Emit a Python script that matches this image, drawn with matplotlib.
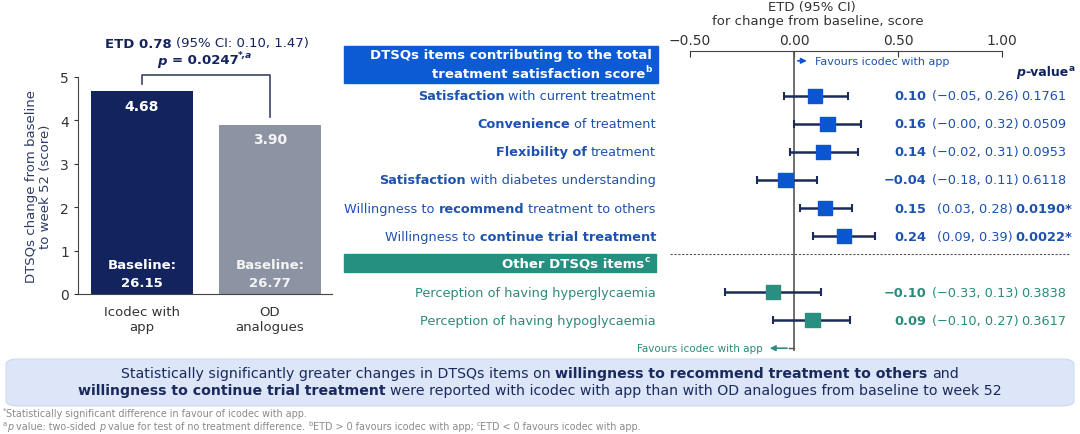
import matplotlib
matplotlib.use("Agg")
import matplotlib.pyplot as plt
import matplotlib.transforms as mtransforms
from matplotlib.patches import FancyBboxPatch, Rectangle
from matplotlib.lines import Line2D

# ---- data ----
groups = ["Icodec with\napp", "OD\nanalogues"]
change = [4.68, 3.90]
baseline = [26.15, 26.77]

items = [
    [("Satisfaction", True), (" with current treatment", False)],
    [("Convenience", True), (" of treatment", False)],
    [("Flexibility of", True), (" treatment", False)],
    [("Satisfaction", True), (" with diabetes understanding", False)],
    [("Willingness to ", False), ("recommend", True), (" treatment to others", False)],
    [("Willingness to ", False), ("continue trial treatment", True)],
    [("Perception of having hyperglycaemia", False)],
    [("Perception of having hypoglycaemia", False)],
]
etd = [0.10, 0.16, 0.14, -0.04, 0.15, 0.24, -0.10, 0.09]
ci_lo = [-0.05, -0.00, -0.02, -0.18, 0.03, 0.09, -0.33, -0.10]
ci_hi = [0.26, 0.32, 0.31, 0.11, 0.28, 0.39, 0.13, 0.27]
pvals = ["0.1761", "0.0509", "0.0953", "0.6118", "0.0190*", "0.0022*", "0.3838", "0.3617"]
signif = [False, False, False, False, True, True, False, False]
other = [False] * 6 + [True] * 2
rows = [0, 1, 2, 3, 4, 5, 7, 8]

NAVY = "#13235e"
GREY_BAR = "#8c94a3"
BLUE = "#0b55d0"
BLUE_TXT = "#1d52ad"
TEAL = "#2a8f80"
TEAL_TXT = "#2b8a7b"
ERR = "#1b2b58"

W, H = 1080, 435
fig = plt.figure(figsize=(10.8, 4.35), dpi=100)
plt.rcParams['font.family'] = ['DejaVu Sans']
renderer = fig.canvas.get_renderer()


def fx(px):
    return px / W


def fy(py):
    return 1 - py / H


def text_w(s, **kw):
    t = fig.text(0, 0, s, **kw)
    w = t.get_window_extent(renderer).width
    t.remove()
    return w


def rich(x, y, parts, ha="left", transform=None, size=9, color="k", family=None, va="center"):
    # parts: list of (text, bold) or (text, bold, extra dict)
    if transform is None:
        transform = fig.transFigure
    fam = family or ['DejaVu Sans']
    segs = []
    for p in parts:
        txt, bold = p[0], p[1]
        extra = p[2] if len(p) > 2 else {}
        kw = dict(fontsize=extra.get("size", size), fontweight="bold" if bold else "normal",
                  family=fam, fontstyle=extra.get("style", "normal"))
        sp = text_w("x x", **kw) - text_w("xx", **kw)
        lead = (len(txt) - len(txt.lstrip(" "))) * sp
        trail = (len(txt) - len(txt.rstrip(" "))) * sp
        core = txt.strip(" ")
        w = text_w(core, **kw) if core else 0
        segs.append((core, kw, lead, w, trail, extra))
    total = sum(s[2] + s[3] + s[4] for s in segs)
    if ha == "center":
        start = -total / 2
    elif ha == "right":
        start = -total
    else:
        start = 0
    pos = start
    for core, kw, lead, w, trail, extra in segs:
        pos += lead
        off = mtransforms.offset_copy(transform, fig=fig, x=pos * 72 / fig.dpi,
                                      y=extra.get("dy", 0), units="points")
        if core:
            fig.text(x, y, core, transform=off, ha="left", va=va,
                     color=extra.get("color", color), **kw)
        pos += w + trail


# ---- left bar chart ----
ax1 = fig.add_axes([fx(78), 1 - 295 / H, fx(332) - fx(78), (295 - 78) / H])
xs = [0, 1]
ax1.bar(xs, change, width=0.8, color=[NAVY, GREY_BAR])
ax1.set_xlim(-0.5, 1.484)
ax1.set_ylim(0, 5)
ax1.set_yticks([0, 1, 2, 3, 4, 5])
ax1.set_xticks(xs)
ax1.set_xticklabels(groups, fontsize=9.5, color="#333333")
ax1.tick_params(axis="x", length=0, pad=8)
ax1.tick_params(axis="y", labelsize=10, colors="#333333", length=3)
for s in ["top", "right"]:
    ax1.spines[s].set_visible(False)
for s in ["left", "bottom"]:
    ax1.spines[s].set_color("#444444")
ax1.set_ylabel("DTSQs change from baseline\nto week 52 (score)", fontsize=9.5,
               color="#2d3b66", labelpad=6, linespacing=1.1)
for x, v, b, tc in zip(xs, change, baseline, ["white", "#f4f4f4"]):
    ax1.text(x, v - 0.34, f"{v:.2f}", ha="center", va="center", color=tc,
             fontsize=10, fontweight="bold")
    ax1.text(x, 0.48, f"Baseline:\n{b:.2f}", ha="center", va="center", color=tc,
             fontsize=9.5, fontweight="bold", linespacing=1.5)
top = 5.05
ax1.plot([xs[0], xs[0], xs[1], xs[1]], [change[0] + 0.16, top, top, change[1] + 0.17],
         color="#3a4566", lw=1.2, clip_on=False)

rich(fx(207), fy(44), [("ETD 0.78", True), (" (95% CI: 0.10, 1.47)", False)],
     ha="center", size=9.5, color=NAVY)
rich(fx(205), fy(61), [("p", True, {"style": "italic"}), (" = 0.0247", True),
                       ("*,a", True, {"size": 6.5, "dy": 4, "style": "italic"})],
     ha="center", size=9.5, color=NAVY)

# ---- forest plot ----
ax2 = fig.add_axes([fx(690), 1 - 352 / H, fx(1002) - fx(690), (352 - 52) / H])
ax2.set_xlim(-0.5, 1.0)
ax2.set_ylim(9.1, -1.6)
for s in ["left", "right", "bottom"]:
    ax2.spines[s].set_visible(False)
ax2.spines["top"].set_color("#444444")
ax2.xaxis.tick_top()
ax2.set_xticks([-0.5, 0, 0.5, 1.0])
ax2.set_xticklabels(["\u22120.50", "0.00", "0.50", "1.00"])
ax2.tick_params(axis="x", direction="in", length=4, labelsize=10, colors="#333333", pad=3)
ax2.set_yticks([])
ax2.patch.set_alpha(0)
ax2.axvline(0, color="#555555", lw=1.2)

lo_err = [e - l for e, l in zip(etd, ci_lo)]
hi_err = [h - e for e, h in zip(etd, ci_hi)]
ax2.errorbar(etd, rows, xerr=[lo_err, hi_err], fmt="none", ecolor=ERR, elinewidth=1.8,
             capsize=3, capthick=1.5, zorder=2)
ax2.scatter(etd, rows, marker="s", s=110, c=[TEAL if o else BLUE for o in other], zorder=3)

fig.text(fx(812), fy(8), "ETD (95% CI)", ha="center", va="center", fontsize=9.5, color="#333333")
fig.text(fx(818), fy(21), "for change from baseline, score", ha="center", va="center",
         fontsize=9.5, color="#333333")

# favours arrows
ax2.annotate("", xy=(0.075, -1.25), xytext=(0.005, -1.25),
             arrowprops=dict(arrowstyle="-|>", color=BLUE, lw=1.2, mutation_scale=8))
ax2.text(0.1, -1.25, "Favours icodec with app", ha="left", va="center", fontsize=8, color=BLUE_TXT)
ax2.annotate("", xy=(-0.13, 9.0), xytext=(-0.02, 9.0),
             arrowprops=dict(arrowstyle="-|>", color=TEAL, lw=1.2, mutation_scale=8))
ax2.plot([-0.025, 0], [9.0, 9.0], color="#555555", lw=1.0)
ax2.text(-0.15, 9.0, "Favours icodec with app", ha="right", va="center", fontsize=7.5, color=TEAL_TXT)

blend = mtransforms.blended_transform_factory(fig.transFigure, ax2.transData)

# header boxes
fig.add_artist(Rectangle((fx(344), fy(84)), fx(658) - fx(344), (84 - 47) / H,
                         transform=fig.transFigure, color="#0c5bd5", zorder=0))
fig.text(fx(652), fy(56), "DTSQs items contributing to the total", ha="right", va="center",
         fontsize=9.5, fontweight="bold", color="white")
rich(fx(652), fy(74), [("treatment satisfaction score", True), ("b", True, {"size": 6.5, "dy": 3})],
     ha="right", size=9.5, color="white")
fig.add_artist(Rectangle((fx(344), fy(273)), fx(656) - fx(344), (273 - 255) / H,
                         transform=fig.transFigure, color="#25907f", zorder=0))
rich(fx(650), fy(264), [("Other DTSQs items", True), ("c", True, {"size": 6.5, "dy": 3})],
     ha="right", size=9.5, color="white")

fig.add_artist(Line2D([fx(670), fx(1070)], [5.64, 5.64], transform=blend, color="#555555",
                      lw=0.8, ls=(0, (2, 1.5))))

rich(fx(1075), -0.86, [("p", True, {"style": "italic"}), ("-value", True),
                       ("a", True, {"size": 6.5, "dy": 3})],
     ha="right", transform=blend, size=9, color=NAVY)

for lab, y, e, lo, hi, p, sg, o in zip(items, rows, etd, ci_lo, ci_hi, pvals, signif, other):
    col = TEAL_TXT if o else BLUE_TXT
    rich(fx(656), y, lab, ha="right", transform=blend, size=9.3, color=col)
    est = f"{e:.2f}".replace("-", "\u2212")
    fig.text(fx(926), y, est, transform=blend, ha="right", va="center", fontsize=9.3,
             fontweight="bold", color=col)
    ci = f"({lo:.2f}, {hi:.2f})".replace("-", "\u2212")
    fig.text(fx(975), y, ci, transform=blend, ha="center", va="center", fontsize=9.3, color=col)
    fig.text(fx(1044), y, p, transform=blend, ha="center", va="center", fontsize=9.3,
             fontweight="bold" if sg else "normal", color=col)

# ---- summary box ----
fig.add_artist(FancyBboxPatch((fx(6), fy(407)), fx(1074) - fx(6), (407 - 360) / H,
                              boxstyle="round,pad=0,rounding_size=0.012",
                              transform=fig.transFigure, facecolor="#dde6f8",
                              edgecolor="#cfd9ee", lw=0.8, zorder=0))
DV = ['DejaVu Sans']
rich(0.5, fy(374), [("Statistically significantly greater changes in DTSQs items on ", False),
                    ("willingness to recommend treatment to others", True), (" and", False)],
     ha="center", size=10.2, color="#1a2a5c", family=DV)
rich(0.5, fy(391), [("willingness to continue trial treatment", True),
                    (" were reported with icodec with app than with OD analogues from baseline to week 52", False)],
     ha="center", size=10.2, color="#1a2a5c", family=DV)

GR = "#8a8a8a"
rich(fx(3), fy(414), [("*", False, {"size": 5, "dy": 2}),
                      ("Statistically significant difference in favour of icodec with app.", False)],
     size=6.9, color=GR, family=DV)
rich(fx(3), fy(427), [("a", False, {"size": 5, "dy": 2}), ("p", False, {"style": "italic"}),
                      (" value: two-sided ", False), ("p", False, {"style": "italic"}),
                      (" value for test of no treatment difference. ", False),
                      ("b", False, {"size": 5, "dy": 2}),
                      ("ETD > 0 favours icodec with app; ", False),
                      ("c", False, {"size": 5, "dy": 2}),
                      ("ETD < 0 favours icodec with app.", False)],
     size=6.9, color=GR, family=DV)

fig.savefig("out.png", dpi=100)
